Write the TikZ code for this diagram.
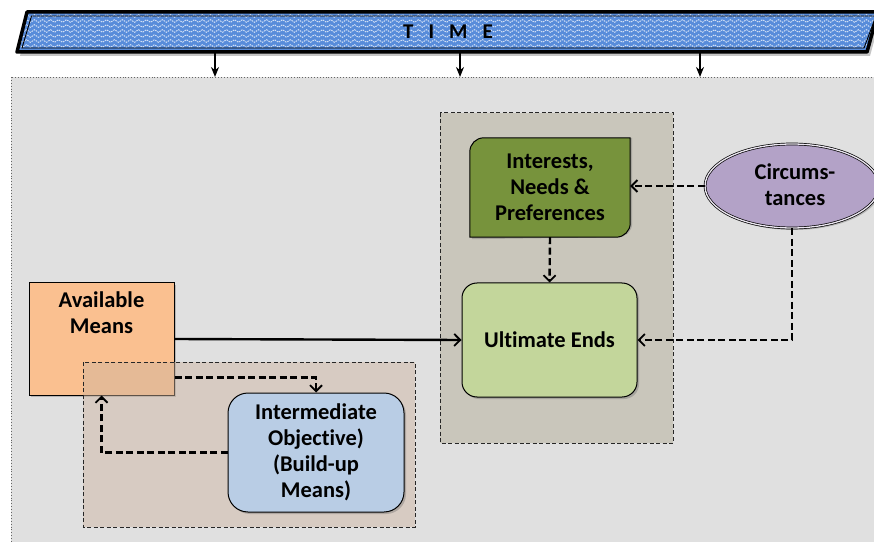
\documentclass[tikz,border=0pt]{standalone}
\usepackage{fontspec}
\setmainfont{Carlito}[Ligatures={NoCommon}]
\usetikzlibrary{arrows.meta,shadows,decorations.pathmorphing,calc,shapes.geometric}
\definecolor{panelgray}{RGB}{224,224,224}
\definecolor{rightgrp}{RGB}{201,198,187}
\definecolor{leftgrp}{RGB}{206,180,159}
\definecolor{olive}{RGB}{119,147,60}
\definecolor{lightgreen}{RGB}{195,214,155}
\definecolor{purp}{RGB}{179,162,199}
\definecolor{purpgap}{RGB}{235,230,240}
\definecolor{orng}{RGB}{250,192,144}
\definecolor{lblue}{RGB}{185,205,229}
\definecolor{bannerblue}{RGB}{88,140,218}
\tikzset{
  txt/.style={font=\bfseries\fontsize{22.5}{26}\selectfont, align=center, text=black},
  boxshadow/.style={drop shadow={shadow xshift=2pt,shadow yshift=-2pt,opacity=.35,fill=black!60}},
  dasharrow/.style={draw=black, line width=2.4pt, dash pattern=on 7pt off 3.5pt, -{Straight Barb[length=6pt,width=12pt,line width=1.8pt]}},
  solidarrow/.style={draw=black, line width=2.4pt, -{Straight Barb[length=6pt,width=12pt,line width=1.8pt]}},
  timearrow/.style={draw=black, line width=2pt, -{Stealth[length=10pt,width=8pt]}},
  grpbox/.style={draw=black!85, line width=1pt, dash pattern=on 4pt off 2.5pt},
}
\begin{document}
\begin{tikzpicture}[x=1pt,y=1pt]
\useasboundingbox (0,0) rectangle (874,541);
% panel
\draw[fill=panelgray, draw=black!60, line width=0.9pt, dotted] (11,464) rectangle (880,-5);
% banner shadow
\fill[black!45, opacity=.5] (30,525) -- (881,525) -- (870,485) -- (20,485) -- cycle;
% banner
\fill[bannerblue] (27,529) -- (878,529) -- (867,489) -- (17,489) -- cycle;
\begin{scope}
\clip (27,529) -- (878,529) -- (867,489) -- (17,489) -- cycle;
\foreach \yy in {525,520,515,510,505,500,495} {
  \draw[white, opacity=.8, line width=0.9pt, dash pattern=on 1.5pt off 1pt, decorate, decoration={snake, segment length=8pt, amplitude=1.3pt}] (0,\yy) -- (880,\yy);
}
\end{scope}
\draw[black, line width=3.5pt, line join=round] (27,529) -- (878,529) -- (867,489) -- (17,489) -- cycle;
\draw[black, line width=0.9pt] (31.5,525) -- (876,525) -- (864,493) -- (22,493) -- cycle;
\node[txt, font=\bfseries\fontsize{21}{24}\selectfont] (time) at (448,509) {T\hspace{15pt}I\hspace{15pt}M\hspace{15pt}E};
% time arrow coordinates
\coordinate (t1) at (215,491);
\coordinate (t2) at (460,491);
\coordinate (t3) at (700,491);
\coordinate (p1) at (215,464);
\coordinate (p2) at (460,464);
\coordinate (p3) at (700,464);
\draw[timearrow] (t1) -- (p1);
\draw[timearrow] (t2) -- (p2);
\draw[timearrow] (t3) -- (p3);
% right group
\draw[grpbox, fill=rightgrp] (440,428) rectangle (673,98);
% Interests box (rounded top-left and bottom-right)
\node[minimum width=160pt, minimum height=99pt, inner sep=0pt] (I) at (550,353.5) {};
\fill[black!60, opacity=.35] ($(I.south west)+(2,-2)$) -- ($(I.north west)+(2,-16)$) arc[start angle=180,end angle=90,radius=14] -- ($(I.north east)+(2,0)$) -- ($(I.south east)+(2,14)$) arc[start angle=0,end angle=-90,radius=14] -- cycle;
\draw[fill=olive, line width=1pt] (I.south west) -- ($(I.north west)+(0,-14)$) arc[start angle=180,end angle=90,radius=14] -- (I.north east) -- ($(I.south east)+(0,14)$) arc[start angle=0,end angle=-90,radius=14] -- cycle;
\node[txt] (Itext) at (I.center) {Interests,\\Needs \&\\Preferences};
% Ultimate ends
\node[txt, draw, line width=1pt, fill=lightgreen, rounded corners=15pt, minimum width=175pt, minimum height=114pt, boxshadow] (U) at (549.5,201) {Ultimate Ends};
% Circumstances
\node[ellipse, draw=black, line width=0.7pt, double=purpgap, double distance=1.3pt, fill=purp, minimum width=174pt, minimum height=84pt, inner sep=0pt, boxshadow] (C) at (792,355) {};
\node[txt] (Ctext) at ($(C.center)+(3,1)$) {Circums-\\tances};
% Available means
\node[draw, line width=1pt, fill=orng, minimum width=145pt, minimum height=112pt, inner sep=0pt, boxshadow] (M) at (101.5,202) {};
\node[txt, anchor=north] (Mtext) at ($(M.north)+(0,-6)$) {Available\\Means};
% left group (semi-transparent)
\fill[leftgrp, opacity=.46] (83,179) rectangle (415,14);
\draw[grpbox] (83,179) rectangle (415,14);
% Intermediate objective
\node[txt, draw, line width=1pt, fill=lblue, rounded corners=20pt, minimum width=176pt, minimum height=119pt, boxshadow] (IO) at (316,88.5) {Intermediate\\Objective)\\(Build-up\\Means)};
% connectors
\draw[solidarrow] (M.east) -- (U.west);
\draw[dasharrow] (I.south) -- (U.north);
\draw[dasharrow] (C.west) -- (C.west -| I.east);
\draw[dasharrow] (C.south) |- (U.east);
\coordinate (ms) at ($(M.south east)+(0,18)$);
\draw[dasharrow] (ms) -| (IO.north);
\draw[dasharrow] (IO.west) -| (M.south);
\end{tikzpicture}
\end{document}
